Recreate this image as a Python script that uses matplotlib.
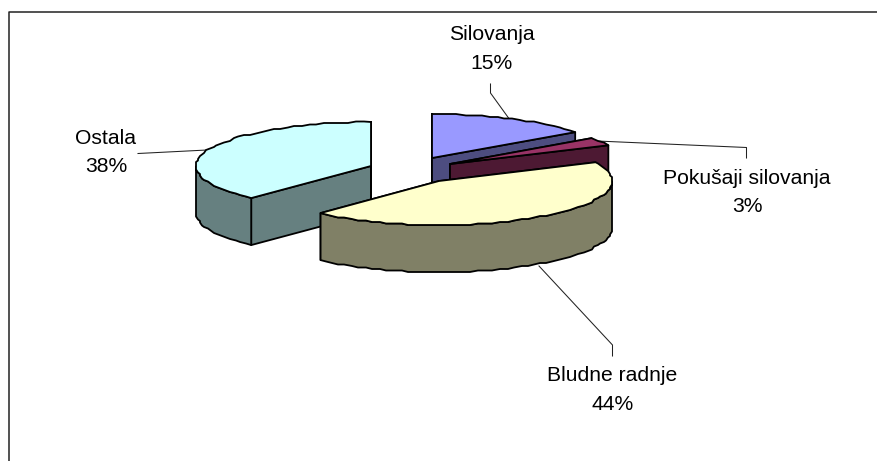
import numpy as np
import matplotlib
matplotlib.use("Agg")
import matplotlib.pyplot as plt
from matplotlib.patches import Polygon

plt.rcParams['font.family'] = ['Liberation Sans', 'DejaVu Sans']

# -------------------------------
# DATA
# -------------------------------
categories = ["Silovanja", "Pokušaji silovanja", "Bludne radnje", "Ostala"]
values = [15, 3, 44, 38]
top_colors = ["#9999FF", "#993366", "#FFFFCC", "#CCFFFF"]
side_colors = ["#4D4D80", "#4D1933", "#808066", "#668080"]

# apex and radius of every exploded slice, pixels
apex_x = [432, 450, 439, 371]
apex_y = [158, 164, 181, 166]
radius_x = [177, 175, 173, 175]
ry, depth = 44, 47

W, H = 877, 461
fig = plt.figure(figsize=(W / 100, H / 100), dpi=100)
ax = fig.add_axes([0, 0, 1, 1])
ax.set_xlim(0, W)
ax.set_ylim(H, 0)
ax.axis("off")

# chart frame, runs off the right and bottom of the picture
ax.plot([8.5, 8.5, W + 2], [H + 2, 12.5, 12.5], color="#222222", lw=1.1)

# start and end angle of slices, clockwise from 12 o'clock
edges = np.cumsum([0] + values) / sum(values) * 2 * np.pi


def rim(i):
    # the rim is a slightly stepped curve, not a smooth ellipse
    n = max(int((edges[i + 1] - edges[i]) / np.radians(2.5)), 4)
    t = np.linspace(edges[i], edges[i + 1], n)
    x = apex_x[i] + radius_x[i] * np.sin(t)
    y = apex_y[i] - ry * np.cos(t)
    x[1:-1] = np.round(x[1:-1] / 2) * 2
    y[1:-1] = np.round(y[1:-1] / 1.5) * 1.5
    return t, x, y


def poly(x, y, color, z):
    ax.add_patch(Polygon(np.column_stack([x, y]), closed=True, facecolor=color,
                         edgecolor="black", lw=1.3, joinstyle="round", zorder=z))


def draw_slice(i, z):
    t, x, y = rim(i)
    cx, cy = apex_x[i], apex_y[i]
    # cut faces going down from the apex
    for ex, ey in ((x[0], y[0]), (x[-1], y[-1])):
        poly([cx, ex, ex, cx], [cy, ey, ey + depth, cy + depth], side_colors[i], z)
    # outer wall, only where it faces the viewer
    front = np.cos(t) <= 0.02
    if front.any():
        fx, fy = x[front], y[front]
        poly(np.r_[fx, fx[::-1]], np.r_[fy, fy[::-1] + depth], side_colors[i], z)
    # top
    poly(np.r_[cx, x], np.r_[cy, y], top_colors[i], z + 0.5)


# back to front
for z, i in enumerate([3, 0, 1, 2]):
    draw_slice(i, z + 1)

# leader lines
leaders_x = [[490.5, 490.5, 510], [597, 746.5, 746.5], [539, 612.5, 612.5], [138, 207]]
leaders_y = [[84, 93, 120], [141, 147.5, 158], [266, 345, 356], [153.5, 150]]
for lx, ly in zip(leaders_x, leaders_y):
    ax.plot(lx, ly, color="#222222", lw=0.75, zorder=0.5)

# labels
label_x = [491.5, 747, 612.5, 106]
label_y = [49, 192.5, 390, 152.5]
for name, v, lx, ly in zip(categories, values, label_x, label_y):
    ax.text(lx, ly, f"{name}\n{v}%", ha="center", va="center", fontsize=15.2,
            linespacing=1.66, color="black", zorder=10)

fig.savefig("out.png", dpi=100, facecolor="white")
